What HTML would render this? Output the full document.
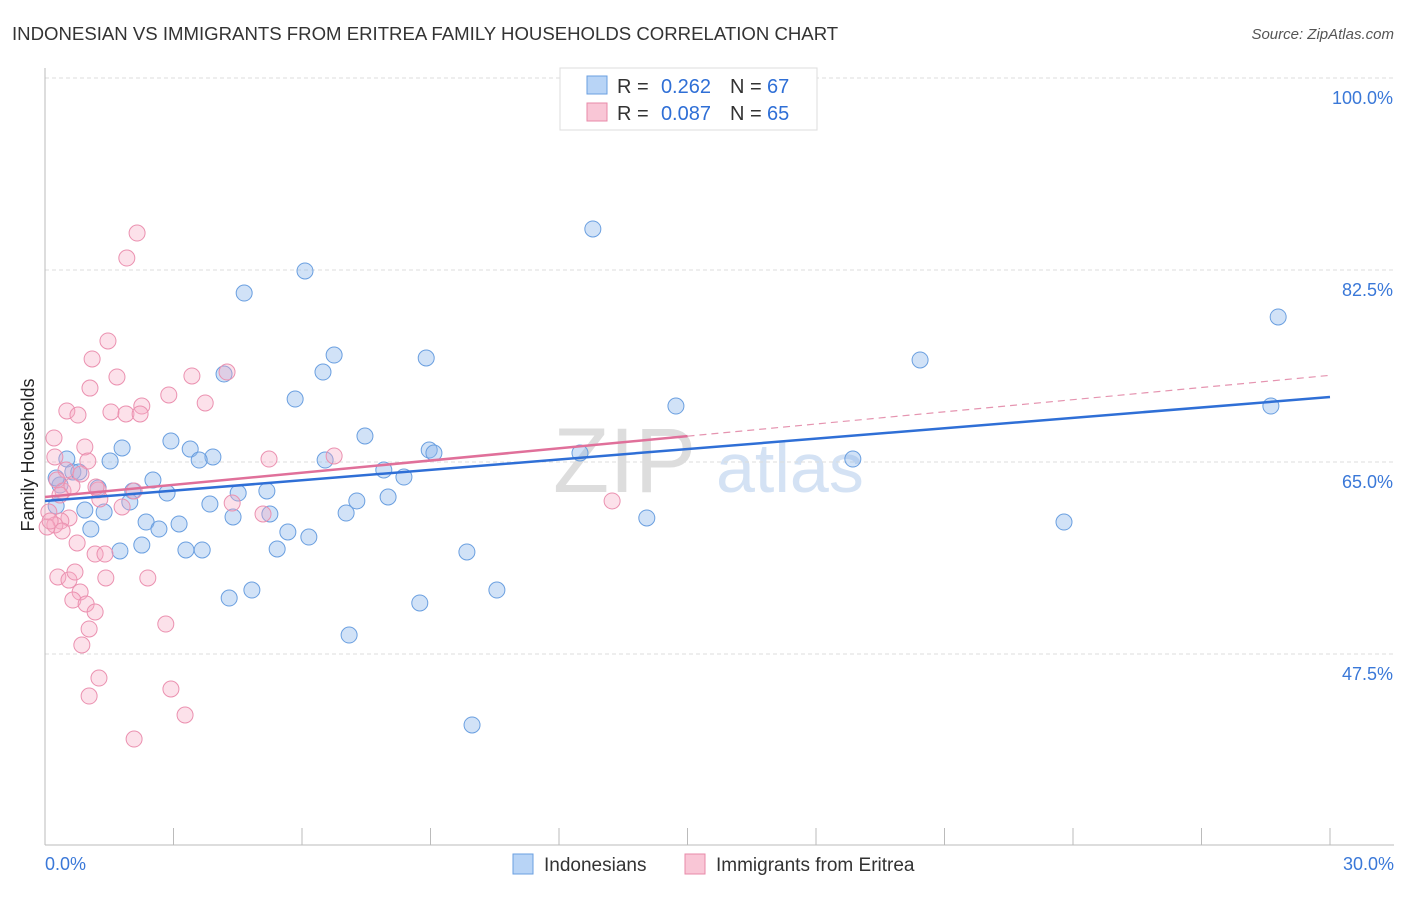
<!DOCTYPE html>
<html><head><meta charset="utf-8"><style>
body{margin:0;background:#fff;font-family:"Liberation Sans",sans-serif}
svg text{font-family:"Liberation Sans",sans-serif}
</style></head><body>
<svg id="c" width="1406" height="892">
<text x="12" y="40" font-size="18.6" fill="#333">INDONESIAN VS IMMIGRANTS FROM ERITREA FAMILY HOUSEHOLDS CORRELATION CHART</text>
<text x="1394" y="39" font-size="15" fill="#555" font-style="italic" text-anchor="end">Source: ZipAtlas.com</text>
<text x="553" y="492" font-size="92" fill="#ddd" font-family="Liberation Serif">ZIP</text>
<text x="716" y="492" font-size="70" fill="#d4e2f4">atlas</text>
<g id="grid"></g>
<g id="marks"></g>
<text transform="translate(34,455) rotate(-90)" font-size="18" fill="#222" text-anchor="middle">Family Households</text>
<g>
<rect x="560" y="68" width="257" height="62" fill="#fff" stroke="#ddd"/>
<rect x="587" y="76" width="20" height="18" fill="#b8d4f6" stroke="#6a9fe0"/>
<rect x="587" y="103" width="20" height="18" fill="#f9c6d6" stroke="#e88aa8"/>
<text x="617" y="93" font-size="20" fill="#333">R =</text>
<text x="711" y="93" font-size="20" fill="#2f6fd6" text-anchor="end">0.262</text>
<text x="730" y="93" font-size="20" fill="#333">N =</text>
<text x="767" y="93" font-size="20" fill="#2f6fd6">67</text>
<text x="617" y="120" font-size="20" fill="#333">R =</text>
<text x="711" y="120" font-size="20" fill="#2f6fd6" text-anchor="end">0.087</text>
<text x="730" y="120" font-size="20" fill="#333">N =</text>
<text x="767" y="120" font-size="20" fill="#2f6fd6">65</text>
</g>
<g>
<rect x="513" y="854" width="20" height="20" fill="#b8d4f6" stroke="#6a9fe0"/>
<text x="544" y="871" font-size="19" fill="#333">Indonesians</text>
<rect x="685" y="854" width="20" height="20" fill="#f9c6d6" stroke="#e88aa8"/>
<text x="716" y="871" font-size="19" fill="#333">Immigrants from Eritrea</text>
</g>
</svg>
<script>
const xTicks=[0,30];
const yTicks=[47.5,65,82.5,100];
const bluePx=[[593,229],[305,271],[244,293],[1278,317],[334,355],[426,358],[920,360],[224,374],[323,372],[295,399],[676,406],[1271,406],[365,436],[171,441],[122,448],[190,449],[429,450],[434,453],[580,453],[213,457],[199,460],[325,460],[110,461],[853,459],[384,470],[404,477],[67,459],[153,480],[73,472],[79,472],[60,485],[98,488],[133,491],[167,493],[238,493],[267,491],[388,497],[357,501],[210,504],[130,502],[56,506],[85,510],[104,512],[270,514],[346,513],[233,517],[647,518],[1064,522],[146,522],[179,524],[91,529],[159,529],[288,532],[309,537],[142,545],[120,551],[186,550],[202,550],[277,549],[467,552],[252,590],[497,590],[229,598],[420,603],[349,635],[472,725],[56,478]];
const pinkPx=[[137,233],[127,258],[108,341],[92,359],[227,372],[192,376],[117,377],[90,388],[169,395],[205,403],[67,411],[78,415],[111,412],[142,406],[126,414],[140,414],[54,438],[85,447],[269,459],[334,456],[55,457],[88,461],[66,470],[81,474],[57,480],[98,490],[63,491],[72,486],[60,495],[134,491],[122,507],[232,503],[263,514],[612,501],[49,512],[69,518],[61,521],[55,525],[47,527],[62,531],[77,543],[95,554],[105,554],[106,578],[148,578],[58,577],[69,580],[75,572],[80,592],[73,600],[86,604],[95,612],[89,629],[166,624],[82,645],[99,678],[171,689],[89,696],[185,715],[134,739],[50,521],[100,499],[96,487]];
const blueX=bluePx.map(p=>+((p[0]-45)/42.833).toFixed(2)), blueY=bluePx.map(p=>+(65-(p[1]-462)*0.091146).toFixed(2));
const pinkX=pinkPx.map(p=>+((p[0]-45)/42.833).toFixed(2)), pinkY=pinkPx.map(p=>+(65-(p[1]-462)*0.091146).toFixed(2));
const blueTrend=[61.44,70.92];
const pinkTrend=[61.81,72.9];
const pinkSolidEnd=15;
const X=v=>45+v*42.833, Y=v=>462-(v-65)/0.091146;
const NS='http://www.w3.org/2000/svg';
function mk(t,a,p){const e=document.createElementNS(NS,t);for(const k in a)e.setAttribute(k,a[k]);p.appendChild(e);return e;}
const g=document.getElementById('grid'), m=document.getElementById('marks');
yTicks.forEach(v=>{
 const l=mk('line',{x1:45,x2:1394,y1:Y(v),y2:Y(v),stroke:'#ddd','stroke-dasharray':'4,3'},g);
 
 
 const t=mk('text',{x:1393,y:Y(v)+26,'font-size':18,fill:'#3a78d8','text-anchor':'end'},g);t.textContent=v.toFixed(1)+'%';
 
 
});
mk('line',{x1:45,x2:45,y1:68,y2:845,stroke:'#bbb'},g);
mk('line',{x1:45,x2:1394,y1:845,y2:845,stroke:'#bbb'},g);
for(let i=0;i<=10;i++){const x=45+i*128.5;mk('line',{x1:x,x2:x,y1:828,y2:845,stroke:'#bbb'},g);}
xTicks.forEach((v,i)=>{const t=mk('text',{x:i?1394:45,y:870,'font-size':18,fill:'#3a78d8','text-anchor':i?'end':'start'},g);t.textContent=v.toFixed(1)+'%';
 
 });
blueX.forEach((x,i)=>{const c=mk('circle',{cx:X(x),cy:Y(blueY[i]),r:8,fill:'rgba(140,182,235,0.4)',stroke:'#6a9fe0','stroke-width':1},m);
 
 });
pinkX.forEach((x,i)=>{const c=mk('circle',{cx:X(x),cy:Y(pinkY[i]),r:8,fill:'rgba(245,170,195,0.35)',stroke:'#eb91b0','stroke-width':1},m);
 
 });
const bl=mk('line',{x1:X(0),y1:Y(blueTrend[0]),x2:X(30),y2:Y(blueTrend[1]),stroke:'#2f6fd6','stroke-width':2.5},m);


const pm=pinkTrend[0]+(pinkTrend[1]-pinkTrend[0])*pinkSolidEnd/30;
const pd=mk('line',{x1:X(pinkSolidEnd),y1:Y(pm),x2:X(30),y2:Y(pinkTrend[1]),stroke:'#e594b0','stroke-width':1.2,'stroke-dasharray':'7,5'},m);


const pl=mk('line',{x1:X(0),y1:Y(pinkTrend[0]),x2:X(pinkSolidEnd),y2:Y(pm),stroke:'#e0709a','stroke-width':2.5},m);


</script>
</body></html>
